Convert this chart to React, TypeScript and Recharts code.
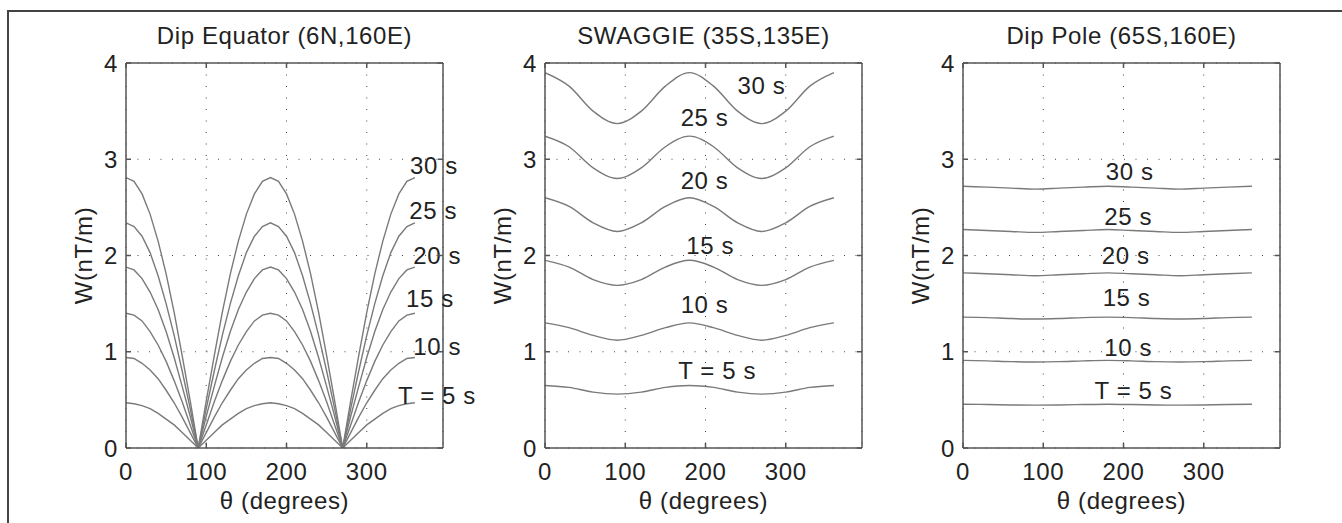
import {CartesianGrid, Line, LineChart, ReferenceDot, ReferenceLine, XAxis, YAxis} from 'recharts';

// theta sample positions (degrees)
const THETA_FINE = [
  0, 10, 20, 30, 40, 50, 60, 70, 80, 90, 100, 110, 120, 130, 140, 150, 160, 170, 180,
  190, 200, 210, 220, 230, 240, 250, 260, 270, 280, 290, 300, 310, 320, 330, 340, 350, 360,
];
const THETA_COARSE = [0, 30, 60, 90, 120, 150, 180, 210, 240, 270, 300, 330, 360];

const PERIODS = ['T = 5 s', '10 s', '15 s', '20 s', '25 s', '30 s'];
const KEYS = ['s5', 's10', 's15', 's20', 's25', 's30'];

// Dip Equator (6N,160E)
const EQ_5 = [0.47, 0.46, 0.44, 0.41, 0.36, 0.30, 0.24, 0.16, 0.08, 0, 0.08, 0.16, 0.24, 0.30, 0.36, 0.41, 0.44, 0.46, 0.47, 0.46, 0.44, 0.41, 0.36, 0.30, 0.24, 0.16, 0.08, 0, 0.08, 0.16, 0.24, 0.30, 0.36, 0.41, 0.44, 0.46, 0.47];
const EQ_10 = [0.94, 0.93, 0.88, 0.81, 0.72, 0.60, 0.47, 0.32, 0.16, 0, 0.16, 0.32, 0.47, 0.60, 0.72, 0.81, 0.88, 0.93, 0.94, 0.93, 0.88, 0.81, 0.72, 0.60, 0.47, 0.32, 0.16, 0, 0.16, 0.32, 0.47, 0.60, 0.72, 0.81, 0.88, 0.93, 0.94];
const EQ_15 = [1.40, 1.38, 1.32, 1.21, 1.07, 0.90, 0.70, 0.48, 0.24, 0, 0.24, 0.48, 0.70, 0.90, 1.07, 1.21, 1.32, 1.38, 1.40, 1.38, 1.32, 1.21, 1.07, 0.90, 0.70, 0.48, 0.24, 0, 0.24, 0.48, 0.70, 0.90, 1.07, 1.21, 1.32, 1.38, 1.40];
const EQ_20 = [1.88, 1.85, 1.76, 1.62, 1.44, 1.21, 0.94, 0.64, 0.33, 0, 0.33, 0.64, 0.94, 1.21, 1.44, 1.62, 1.76, 1.85, 1.88, 1.85, 1.76, 1.62, 1.44, 1.21, 0.94, 0.64, 0.33, 0, 0.33, 0.64, 0.94, 1.21, 1.44, 1.62, 1.76, 1.85, 1.88];
const EQ_25 = [2.34, 2.30, 2.20, 2.03, 1.79, 1.50, 1.17, 0.80, 0.41, 0, 0.41, 0.80, 1.17, 1.50, 1.79, 2.03, 2.20, 2.30, 2.34, 2.30, 2.20, 2.03, 1.79, 1.50, 1.17, 0.80, 0.41, 0, 0.41, 0.80, 1.17, 1.50, 1.79, 2.03, 2.20, 2.30, 2.34];
const EQ_30 = [2.81, 2.77, 2.64, 2.43, 2.15, 1.81, 1.41, 0.96, 0.49, 0, 0.49, 0.96, 1.41, 1.81, 2.15, 2.43, 2.64, 2.77, 2.81, 2.77, 2.64, 2.43, 2.15, 1.81, 1.41, 0.96, 0.49, 0, 0.49, 0.96, 1.41, 1.81, 2.15, 2.43, 2.64, 2.77, 2.81];

// SWAGGIE (35S,135E)
const SW_5 = [0.65, 0.63, 0.58, 0.56, 0.58, 0.63, 0.65, 0.63, 0.58, 0.56, 0.58, 0.63, 0.65];
const SW_10 = [1.30, 1.25, 1.17, 1.12, 1.17, 1.25, 1.30, 1.25, 1.17, 1.12, 1.17, 1.25, 1.30];
const SW_15 = [1.95, 1.88, 1.75, 1.69, 1.75, 1.88, 1.95, 1.88, 1.75, 1.69, 1.75, 1.88, 1.95];
const SW_20 = [2.60, 2.51, 2.34, 2.25, 2.34, 2.51, 2.60, 2.51, 2.34, 2.25, 2.34, 2.51, 2.60];
const SW_25 = [3.24, 3.13, 2.91, 2.80, 2.91, 3.13, 3.24, 3.13, 2.91, 2.80, 2.91, 3.13, 3.24];
const SW_30 = [3.90, 3.76, 3.50, 3.37, 3.50, 3.76, 3.90, 3.76, 3.50, 3.37, 3.50, 3.76, 3.90];

// Dip Pole (65S,160E)
const DP_5 = [0.455, 0.452, 0.447, 0.445, 0.447, 0.452, 0.455, 0.452, 0.447, 0.445, 0.447, 0.452, 0.455];
const DP_10 = [0.91, 0.905, 0.897, 0.894, 0.897, 0.905, 0.91, 0.905, 0.897, 0.894, 0.897, 0.905, 0.91];
const DP_15 = [1.36, 1.355, 1.345, 1.34, 1.345, 1.355, 1.36, 1.355, 1.345, 1.34, 1.345, 1.355, 1.36];
const DP_20 = [1.82, 1.81, 1.80, 1.79, 1.80, 1.81, 1.82, 1.81, 1.80, 1.79, 1.80, 1.81, 1.82];
const DP_25 = [2.27, 2.26, 2.25, 2.24, 2.25, 2.26, 2.27, 2.26, 2.25, 2.24, 2.25, 2.26, 2.27];
const DP_30 = [2.72, 2.71, 2.70, 2.69, 2.70, 2.71, 2.72, 2.71, 2.70, 2.69, 2.70, 2.71, 2.72];

// where each period label sits, in data units [theta, W]
const EQ_LABEL_AT = [[339, 0.55], [358, 1.06], [349, 1.55], [358, 2.0], [353, 2.47], [354, 2.94]];
const SW_LABEL_AT = [[166, 0.81], [169, 1.49], [176, 2.11], [169, 2.78], [169, 3.44], [240, 3.77]];
const DP_LABEL_AT = [[164, 0.6], [176, 1.05], [174, 1.56], [173, 2.0], [176, 2.41], [178, 2.87]];

const X_MAX = 395;
const Y_MAX = 4;
const X_TICKS = [0, 100, 200, 300];
const Y_TICKS = [0, 1, 2, 3, 4];

const FONT = "'Liberation Sans', Arial, Helvetica, sans-serif";
const AXIS = '#555';
const CURVE = '#7a7a7a';
const TEXT = '#222';
const FS = 24;

// plot box size in px, used for the inward tick marks on the opposite side
const PLOT_W = 317;
const PLOT_H = 385;
const TICK_LEN = 5;
const X_GAP = 16;
const Y_GAP = 8;

function buildRows(theta: number[], series: number[][]) {
  return theta.map((t, i) => {
    const row: Record<string, number> = {t};
    KEYS.forEach((k, j) => {
      row[k] = series[j][i];
    });
    return row;
  });
}

function XTick(props: any) {
  const {x, y, payload} = props;
  const yb = y - X_GAP;
  return (
    <g>
      <line x1={x} y1={yb} x2={x} y2={yb - TICK_LEN} stroke={AXIS} strokeWidth={1.5} />
      <line x1={x} y1={yb - PLOT_H} x2={x} y2={yb - PLOT_H + TICK_LEN} stroke={AXIS} strokeWidth={1.5} />
      <text x={x} y={y} dy="0.68em" textAnchor="middle" fontSize={FS} fill={TEXT}>
        {payload.value}
      </text>
    </g>
  );
}

function YTick(props: any) {
  const {x, y, payload} = props;
  const xl = x + Y_GAP;
  return (
    <g>
      <line x1={xl} y1={y} x2={xl + TICK_LEN} y2={y} stroke={AXIS} strokeWidth={1.5} />
      <line x1={xl + PLOT_W} y1={y} x2={xl + PLOT_W - TICK_LEN} y2={y} stroke={AXIS} strokeWidth={1.5} />
      <text x={x} y={y} dy="0.36em" textAnchor="end" fontSize={FS} fill={TEXT}>
        {payload.value}
      </text>
    </g>
  );
}

interface PanelProps {
  title: string;
  theta: number[];
  series: number[][];
  labelAt: number[][];
  curve: 'linear' | 'monotone';
  left: number;
}

function Panel({title, theta, series, labelAt, curve, left}: PanelProps) {
  const rows = buildRows(theta, series);
  return (
    <div style={{position: 'absolute', left, top: 0}}>
      <LineChart width={467} height={523} data={rows} margin={{top: 63, right: 60, bottom: 0, left: 0}}>
        <CartesianGrid stroke="#444" strokeDasharray="1 10.5" />
        <XAxis
          dataKey="t"
          type="number"
          domain={[0, X_MAX]}
          ticks={X_TICKS}
          allowDataOverflow
          height={75}
          stroke={AXIS}
          strokeWidth={1.5}
          tickLine={false}
          tickSize={0}
          tickMargin={X_GAP}
          tick={<XTick />}
          label={{value: 'θ (degrees)', position: 'insideBottom', offset: 14, fontSize: FS, fill: TEXT}}
        />
        <YAxis
          type="number"
          domain={[0, Y_MAX]}
          ticks={Y_TICKS}
          allowDataOverflow
          width={90}
          stroke={AXIS}
          strokeWidth={1.5}
          tickLine={false}
          tickSize={0}
          tickMargin={Y_GAP}
          tick={<YTick />}
          label={{value: 'W(nT/m)', angle: -90, position: 'insideLeft', offset: 47, fontSize: FS, fill: TEXT, style: {textAnchor: 'middle'}}}
        />
        <ReferenceLine y={Y_MAX} stroke={AXIS} strokeWidth={1.5} />
        <ReferenceLine x={X_MAX} stroke={AXIS} strokeWidth={1.5} />
        {KEYS.map((k) => (
          <Line
            key={k}
            dataKey={k}
            type={curve}
            stroke={CURVE}
            strokeWidth={1.4}
            dot={false}
            activeDot={false}
            isAnimationActive={false}
          />
        ))}
        {PERIODS.map((p, i) => (
          <ReferenceDot
            key={p}
            x={labelAt[i][0]}
            y={labelAt[i][1]}
            r={0}
            ifOverflow="visible"
            shape={(props: any) => (
              <text x={props.cx} y={props.cy} dy="0.36em" textAnchor="start" fontSize={FS} fill={TEXT}>
                {p}
              </text>
            )}
          />
        ))}
        <ReferenceDot
          x={X_MAX / 2}
          y={Y_MAX}
          r={0}
          ifOverflow="visible"
          shape={(props: any) => (
            <text x={props.cx} y={props.cy - 19.5} textAnchor="middle" fontSize={FS} fill={TEXT}>
              {title}
            </text>
          )}
        />
      </LineChart>
    </div>
  );
}

export default function App() {
  return (
    <div
      style={{
        position: 'absolute',
        left: 0,
        top: 0,
        width: 1342,
        height: 523,
        overflow: 'hidden',
        background: '#fff',
        fontFamily: FONT,
        letterSpacing: '0.6px',
      }}
    >
      <div
        style={{
          position: 'absolute',
          left: 7,
          top: 10,
          width: 1400,
          height: 600,
          borderTop: '2px solid #444',
          borderLeft: '2px solid #444',
        }}
      />
      <Panel
        title="Dip Equator (6N,160E)"
        theta={THETA_FINE}
        series={[EQ_5, EQ_10, EQ_15, EQ_20, EQ_25, EQ_30]}
        labelAt={EQ_LABEL_AT}
        curve="linear"
        left={36}
      />
      <Panel
        title="SWAGGIE (35S,135E)"
        theta={THETA_COARSE}
        series={[SW_5, SW_10, SW_15, SW_20, SW_25, SW_30]}
        labelAt={SW_LABEL_AT}
        curve="monotone"
        left={455}
      />
      <Panel
        title="Dip Pole (65S,160E)"
        theta={THETA_COARSE}
        series={[DP_5, DP_10, DP_15, DP_20, DP_25, DP_30]}
        labelAt={DP_LABEL_AT}
        curve="monotone"
        left={873}
      />
    </div>
  );
}
